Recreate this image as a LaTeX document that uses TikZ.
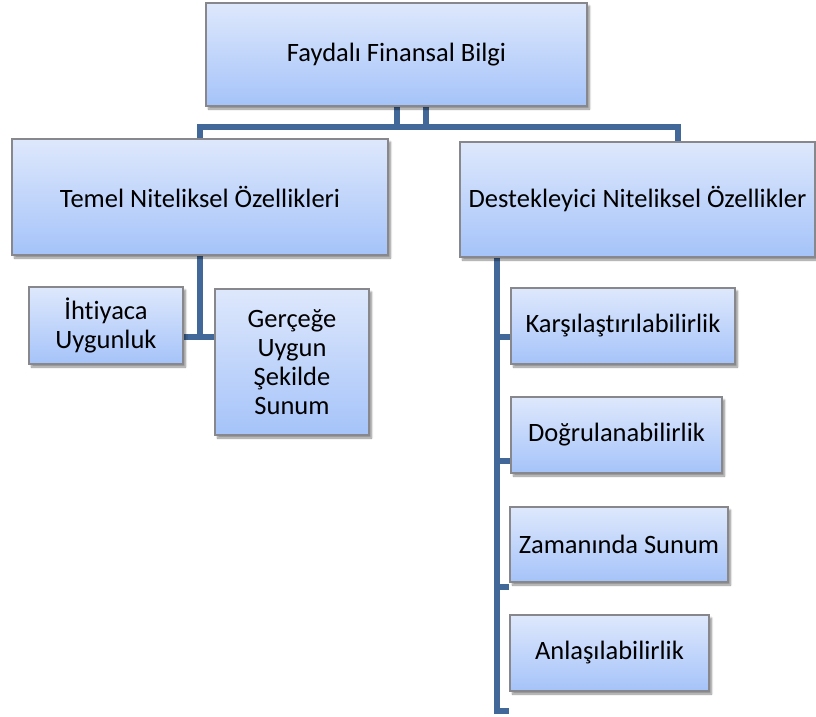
\documentclass[tikz,border=0pt]{standalone}
\usepackage{fontspec}
\setmainfont{Carlito}[Ligatures=NoCommon]
\usetikzlibrary{shadows.blur}
\pgfdeclarelayer{background}
\pgfsetlayers{background,main}
\definecolor{linkblue}{RGB}{65,104,152}
\definecolor{boxtop}{RGB}{222,232,252}
\definecolor{boxbot}{RGB}{165,195,249}
\definecolor{boxedge}{RGB}{135,135,140}
\tikzset{
  boxnode/.style={rectangle, draw=boxedge, line width=1.1pt, top color=boxtop, bottom color=boxbot,
    blur shadow={shadow xshift=2.5pt, shadow yshift=-3pt, shadow blur steps=6, shadow opacity=45},
    font=\fontsize{26.5}{29}\selectfont, align=center, inner sep=0pt, text=black},
  link/.style={draw=linkblue, line width=5.5pt}
}
\begin{document}
\begin{tikzpicture}[x=1pt,y=-1pt]
\useasboundingbox (0,0) rectangle (816,716);
\node[boxnode, minimum width=381pt, minimum height=103pt] (top) at (396.5,54.5) {Faydalı Finansal Bilgi};
\node[boxnode, minimum width=376pt, minimum height=116pt] (temel) at (200,197) {Temel Niteliksel Özellikleri};
\node[boxnode, minimum width=355pt, minimum height=115pt] (dest) at (637.5,199.5) {Destekleyici Niteliksel Özellikler};
\node[boxnode, minimum width=154pt, minimum height=77pt] (iht) at (106,325.5) {İhtiyaca\\Uygunluk};
\node[boxnode, minimum width=154pt, minimum height=146pt] (ger) at (292,362) {Gerçeğe\\Uygun\\Şekilde\\Sunum};
\node[boxnode, minimum width=224pt, minimum height=76pt] (kar) at (623,326) {Karşılaştırılabilirlik};
\node[boxnode, minimum width=211pt, minimum height=76pt] (dog) at (616.5,435) {Doğrulanabilirlik};
\node[boxnode, minimum width=218pt, minimum height=75pt] (zam) at (619,544.5) {Zamanında Sunum};
\node[boxnode, minimum width=199pt, minimum height=76pt] (anl) at (609.5,653) {Anlaşılabilirlik};
\coordinate (jl) at (426,127);
\coordinate (jr) at (397,127);
\coordinate (dr) at (678,127);
\coordinate (tj) at (200,337);
\coordinate (k1) at (497,337);
\coordinate (k2) at (497,461);
\coordinate (k3) at (497,587);
\coordinate (k4) at (497,711);
\begin{pgfonlayer}{background}
\draw[link] (top.south -| jl) -- (jl) -| (temel.north);
\draw[link] (top.south -| jr) -- (jr) -- (dr) -- (dest.north -| dr);
\draw[link] (temel.south) -- (tj);
\draw[link] (iht.east |- tj) -- (ger.west |- tj);
\draw[link] (dest.south -| k1) -- (k4) -- (k4 -| anl.west);
\draw[link] (k1) -- (k1 -| kar.west);
\draw[link] (k2) -- (k2 -| dog.west);
\draw[link] (k3) -- (k3 -| zam.west);
\end{pgfonlayer}
\end{tikzpicture}
\end{document}
